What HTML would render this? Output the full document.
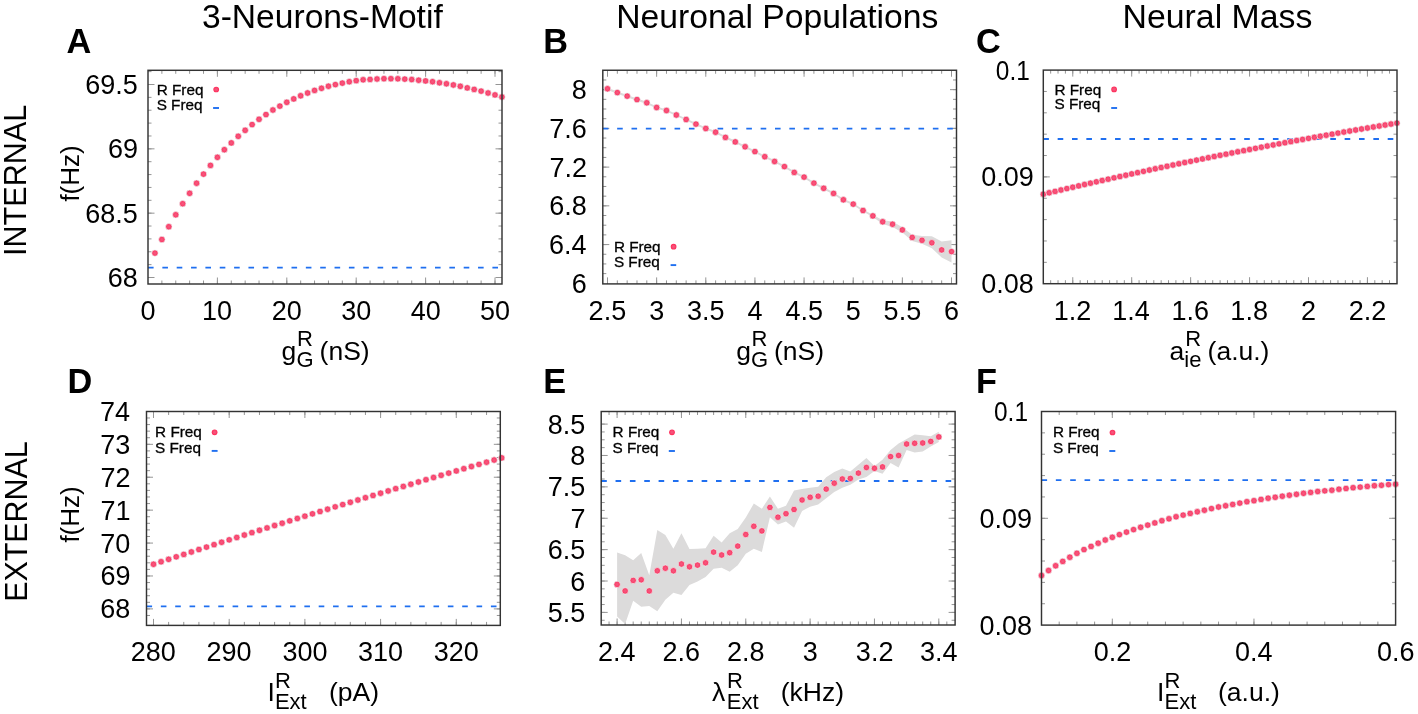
<!DOCTYPE html><html><head><meta charset="utf-8"><style>html,body{margin:0;padding:0;background:#fff;width:1418px;height:714px;overflow:hidden}svg{will-change:transform}</style></head><body><svg width="1418" height="714" viewBox="0 0 1418 714" style="position:absolute;left:0;top:0;font-family:'Liberation Sans', sans-serif">
<rect width="1418" height="714" fill="#fff"/>
<defs><radialGradient id="dg"><stop offset="0" stop-color="#f25d7f"/><stop offset="0.6" stop-color="#f94570"/><stop offset="0.85" stop-color="#ff2d5a"/><stop offset="1" stop-color="#ff2d5a"/></radialGradient></defs>
<text x="202.00" y="28.10" font-size="33.6" text-anchor="start" font-weight="normal" >3-Neurons-Motif</text>
<text x="616.20" y="28.30" font-size="33.7" text-anchor="start" font-weight="normal" >Neuronal Populations</text>
<text x="1122.60" y="28.10" font-size="33.8" text-anchor="start" font-weight="normal" >Neural Mass</text>
<text x="66.55" y="52.80" font-size="34.3" text-anchor="start" font-weight="bold" >A</text>
<text x="543.31" y="52.80" font-size="34.3" text-anchor="start" font-weight="bold" >B</text>
<text x="975.89" y="53.10" font-size="34.3" text-anchor="start" font-weight="bold" >C</text>
<text x="67.61" y="393.30" font-size="34.3" text-anchor="start" font-weight="bold" >D</text>
<text x="543.31" y="393.30" font-size="34.3" text-anchor="start" font-weight="bold" >E</text>
<text x="975.91" y="393.30" font-size="34.3" text-anchor="start" font-weight="bold" >F</text>
<text x="26.30" y="256.00" font-size="32" text-anchor="start" font-weight="normal" textLength="151.3" lengthAdjust="spacingAndGlyphs" transform="rotate(-90 26.3 256.0)">INTERNAL</text>
<text x="26.60" y="601.80" font-size="32" text-anchor="start" font-weight="normal" textLength="160.5" lengthAdjust="spacingAndGlyphs" transform="rotate(-90 26.6 601.8)">EXTERNAL</text>
<text x="78.60" y="201.60" font-size="26" text-anchor="start" font-weight="normal" transform="rotate(-90 78.6 201.6)">f(Hz)</text>
<text x="78.60" y="542.60" font-size="26" text-anchor="start" font-weight="normal" transform="rotate(-90 78.6 542.6)">f(Hz)</text>
<path d="M161.88 284.00v-3.5M161.88 70.30v3.5M175.76 284.00v-3.5M175.76 70.30v3.5M189.64 284.00v-3.5M189.64 70.30v3.5M203.52 284.00v-3.5M203.52 70.30v3.5M217.40 284.00v-3.5M217.40 70.30v3.5M231.28 284.00v-3.5M231.28 70.30v3.5M245.16 284.00v-3.5M245.16 70.30v3.5M259.04 284.00v-3.5M259.04 70.30v3.5M272.92 284.00v-3.5M272.92 70.30v3.5M286.80 284.00v-3.5M286.80 70.30v3.5M300.68 284.00v-3.5M300.68 70.30v3.5M314.56 284.00v-3.5M314.56 70.30v3.5M328.44 284.00v-3.5M328.44 70.30v3.5M342.32 284.00v-3.5M342.32 70.30v3.5M356.20 284.00v-3.5M356.20 70.30v3.5M370.08 284.00v-3.5M370.08 70.30v3.5M383.96 284.00v-3.5M383.96 70.30v3.5M397.84 284.00v-3.5M397.84 70.30v3.5M411.72 284.00v-3.5M411.72 70.30v3.5M425.60 284.00v-3.5M425.60 70.30v3.5M439.48 284.00v-3.5M439.48 70.30v3.5M453.36 284.00v-3.5M453.36 70.30v3.5M467.24 284.00v-3.5M467.24 70.30v3.5M481.12 284.00v-3.5M481.12 70.30v3.5M495.00 284.00v-3.5M495.00 70.30v3.5M148.00 277.50h3.5M502.00 277.50h-3.5M148.00 264.63h3.5M502.00 264.63h-3.5M148.00 251.77h3.5M502.00 251.77h-3.5M148.00 238.90h3.5M502.00 238.90h-3.5M148.00 226.03h3.5M502.00 226.03h-3.5M148.00 213.17h3.5M502.00 213.17h-3.5M148.00 200.30h3.5M502.00 200.30h-3.5M148.00 187.43h3.5M502.00 187.43h-3.5M148.00 174.57h3.5M502.00 174.57h-3.5M148.00 161.70h3.5M502.00 161.70h-3.5M148.00 148.83h3.5M502.00 148.83h-3.5M148.00 135.97h3.5M502.00 135.97h-3.5M148.00 123.10h3.5M502.00 123.10h-3.5M148.00 110.23h3.5M502.00 110.23h-3.5M148.00 97.37h3.5M502.00 97.37h-3.5M148.00 84.50h3.5M502.00 84.50h-3.5M148.00 71.63h3.5M502.00 71.63h-3.5" stroke="#959595" stroke-width="1" fill="none"/>
<path d="M217.40 284.00v-6.5M217.40 70.30v6.5M286.80 284.00v-6.5M286.80 70.30v6.5M356.20 284.00v-6.5M356.20 70.30v6.5M425.60 284.00v-6.5M425.60 70.30v6.5M495.00 284.00v-6.5M495.00 70.30v6.5M148.00 277.50h6.5M502.00 277.50h-6.5M148.00 213.17h6.5M502.00 213.17h-6.5M148.00 148.83h6.5M502.00 148.83h-6.5M148.00 84.50h6.5M502.00 84.50h-6.5" stroke="#959595" stroke-width="1" fill="none"/>
<line x1="148.00" y1="267.60" x2="502.00" y2="267.60" stroke="#1f6ff0" stroke-width="1.8" stroke-dasharray="5.6 8.75"/>
<g fill="url(#dg)" stroke="#eaf4f3" stroke-width="0.7"><circle cx="154.94" cy="253.10" r="3.2"/><circle cx="161.88" cy="239.50" r="3.2"/><circle cx="168.82" cy="226.70" r="3.2"/><circle cx="175.76" cy="214.80" r="3.2"/><circle cx="182.70" cy="203.70" r="3.2"/><circle cx="189.64" cy="193.30" r="3.2"/><circle cx="196.58" cy="183.20" r="3.2"/><circle cx="203.52" cy="174.10" r="3.2"/><circle cx="210.46" cy="165.40" r="3.2"/><circle cx="217.40" cy="157.30" r="3.2"/><circle cx="224.34" cy="149.70" r="3.2"/><circle cx="231.28" cy="142.90" r="3.2"/><circle cx="238.22" cy="136.30" r="3.2"/><circle cx="245.16" cy="130.30" r="3.2"/><circle cx="252.10" cy="124.60" r="3.2"/><circle cx="259.04" cy="119.30" r="3.2"/><circle cx="265.98" cy="114.60" r="3.2"/><circle cx="272.92" cy="110.00" r="3.2"/><circle cx="279.86" cy="106.10" r="3.2"/><circle cx="286.80" cy="102.30" r="3.2"/><circle cx="293.74" cy="98.90" r="3.2"/><circle cx="300.68" cy="95.80" r="3.2"/><circle cx="307.62" cy="93.00" r="3.2"/><circle cx="314.56" cy="90.40" r="3.2"/><circle cx="321.50" cy="88.30" r="3.2"/><circle cx="328.44" cy="86.20" r="3.2"/><circle cx="335.38" cy="84.60" r="3.2"/><circle cx="342.32" cy="83.10" r="3.2"/><circle cx="349.26" cy="81.75" r="3.2"/><circle cx="356.20" cy="80.65" r="3.2"/><circle cx="363.14" cy="79.80" r="3.2"/><circle cx="370.08" cy="79.40" r="3.2"/><circle cx="377.02" cy="79.00" r="3.2"/><circle cx="383.96" cy="78.70" r="3.2"/><circle cx="390.90" cy="78.70" r="3.2"/><circle cx="397.84" cy="78.80" r="3.2"/><circle cx="404.78" cy="79.10" r="3.2"/><circle cx="411.72" cy="79.55" r="3.2"/><circle cx="418.66" cy="80.20" r="3.2"/><circle cx="425.60" cy="80.90" r="3.2"/><circle cx="432.54" cy="81.70" r="3.2"/><circle cx="439.48" cy="82.80" r="3.2"/><circle cx="446.42" cy="83.80" r="3.2"/><circle cx="453.36" cy="84.95" r="3.2"/><circle cx="460.30" cy="86.30" r="3.2"/><circle cx="467.24" cy="87.90" r="3.2"/><circle cx="474.18" cy="89.40" r="3.2"/><circle cx="481.12" cy="91.10" r="3.2"/><circle cx="488.06" cy="93.00" r="3.2"/><circle cx="495.00" cy="94.90" r="3.2"/><circle cx="501.94" cy="97.00" r="3.2"/></g>
<rect x="148" y="70.3" width="354.00" height="213.70" fill="none" stroke="#333333" stroke-width="1.45"/>
<text x="156.68" y="94.90" font-size="15.3" text-anchor="start" font-weight="normal" stroke="#000" stroke-width="0.3">R Freq</text>
<text x="156.68" y="109.60" font-size="15.3" text-anchor="start" font-weight="normal" stroke="#000" stroke-width="0.3">S Freq</text>
<circle cx="216.2" cy="89.5" r="2.85" fill="url(#dg)"/>
<line x1="213.1" y1="108.0" x2="219.0" y2="108.0" stroke="#1f6ff0" stroke-width="1.9"/>
<text x="137.87" y="287.00" font-size="27" text-anchor="end" font-weight="normal" >68</text>
<text x="137.83" y="222.67" font-size="27" text-anchor="end" font-weight="normal" >68.5</text>
<text x="137.98" y="158.33" font-size="27" text-anchor="end" font-weight="normal" >69</text>
<text x="137.83" y="94.00" font-size="27" text-anchor="end" font-weight="normal" >69.5</text>
<text x="140.49" y="319.90" font-size="27" text-anchor="start" font-weight="normal" >0</text>
<text x="201.88" y="319.90" font-size="27" text-anchor="start" font-weight="normal" >10</text>
<text x="271.63" y="319.90" font-size="27" text-anchor="start" font-weight="normal" >20</text>
<text x="341.20" y="319.90" font-size="27" text-anchor="start" font-weight="normal" >30</text>
<text x="410.80" y="319.90" font-size="27" text-anchor="start" font-weight="normal" >40</text>
<text x="479.97" y="319.90" font-size="27" text-anchor="start" font-weight="normal" >50</text>
<path d="M607.50 283.90v-3.5M607.50 70.25v3.5M617.33 283.90v-3.5M617.33 70.25v3.5M627.16 283.90v-3.5M627.16 70.25v3.5M636.99 283.90v-3.5M636.99 70.25v3.5M646.81 283.90v-3.5M646.81 70.25v3.5M656.64 283.90v-3.5M656.64 70.25v3.5M666.47 283.90v-3.5M666.47 70.25v3.5M676.30 283.90v-3.5M676.30 70.25v3.5M686.13 283.90v-3.5M686.13 70.25v3.5M695.96 283.90v-3.5M695.96 70.25v3.5M705.79 283.90v-3.5M705.79 70.25v3.5M715.61 283.90v-3.5M715.61 70.25v3.5M725.44 283.90v-3.5M725.44 70.25v3.5M735.27 283.90v-3.5M735.27 70.25v3.5M745.10 283.90v-3.5M745.10 70.25v3.5M754.93 283.90v-3.5M754.93 70.25v3.5M764.76 283.90v-3.5M764.76 70.25v3.5M774.59 283.90v-3.5M774.59 70.25v3.5M784.41 283.90v-3.5M784.41 70.25v3.5M794.24 283.90v-3.5M794.24 70.25v3.5M804.07 283.90v-3.5M804.07 70.25v3.5M813.90 283.90v-3.5M813.90 70.25v3.5M823.73 283.90v-3.5M823.73 70.25v3.5M833.56 283.90v-3.5M833.56 70.25v3.5M843.39 283.90v-3.5M843.39 70.25v3.5M853.21 283.90v-3.5M853.21 70.25v3.5M863.04 283.90v-3.5M863.04 70.25v3.5M872.87 283.90v-3.5M872.87 70.25v3.5M882.70 283.90v-3.5M882.70 70.25v3.5M892.53 283.90v-3.5M892.53 70.25v3.5M902.36 283.90v-3.5M902.36 70.25v3.5M912.19 283.90v-3.5M912.19 70.25v3.5M922.01 283.90v-3.5M922.01 70.25v3.5M931.84 283.90v-3.5M931.84 70.25v3.5M941.67 283.90v-3.5M941.67 70.25v3.5M951.50 283.90v-3.5M951.50 70.25v3.5M602.80 273.62h3.5M956.50 273.62h-3.5M602.80 263.93h3.5M956.50 263.93h-3.5M602.80 254.25h3.5M956.50 254.25h-3.5M602.80 244.57h3.5M956.50 244.57h-3.5M602.80 234.89h3.5M956.50 234.89h-3.5M602.80 225.21h3.5M956.50 225.21h-3.5M602.80 215.52h3.5M956.50 215.52h-3.5M602.80 205.84h3.5M956.50 205.84h-3.5M602.80 196.16h3.5M956.50 196.16h-3.5M602.80 186.48h3.5M956.50 186.48h-3.5M602.80 176.79h3.5M956.50 176.79h-3.5M602.80 167.11h3.5M956.50 167.11h-3.5M602.80 157.43h3.5M956.50 157.43h-3.5M602.80 147.74h3.5M956.50 147.74h-3.5M602.80 138.06h3.5M956.50 138.06h-3.5M602.80 128.38h3.5M956.50 128.38h-3.5M602.80 118.70h3.5M956.50 118.70h-3.5M602.80 109.01h3.5M956.50 109.01h-3.5M602.80 99.33h3.5M956.50 99.33h-3.5M602.80 89.65h3.5M956.50 89.65h-3.5M602.80 79.97h3.5M956.50 79.97h-3.5" stroke="#959595" stroke-width="1" fill="none"/>
<path d="M607.50 283.90v-6.5M607.50 70.25v6.5M656.64 283.90v-6.5M656.64 70.25v6.5M705.79 283.90v-6.5M705.79 70.25v6.5M754.93 283.90v-6.5M754.93 70.25v6.5M804.07 283.90v-6.5M804.07 70.25v6.5M853.21 283.90v-6.5M853.21 70.25v6.5M902.36 283.90v-6.5M902.36 70.25v6.5M951.50 283.90v-6.5M951.50 70.25v6.5M602.80 244.57h6.5M956.50 244.57h-6.5M602.80 205.84h6.5M956.50 205.84h-6.5M602.80 167.11h6.5M956.50 167.11h-6.5M602.80 128.38h6.5M956.50 128.38h-6.5M602.80 89.65h6.5M956.50 89.65h-6.5" stroke="#959595" stroke-width="1" fill="none"/>
<polygon points="607.50,87.70 617.33,91.50 627.16,95.00 636.99,98.50 646.81,101.70 656.64,106.40 666.47,109.40 676.30,113.90 686.13,118.40 695.96,123.00 705.79,127.40 715.61,131.10 725.44,136.30 735.27,140.80 745.10,145.70 754.93,150.50 764.76,155.60 774.59,160.35 784.41,165.50 794.24,171.30 804.07,176.00 813.90,182.00 823.73,187.20 833.56,192.30 843.39,198.70 853.21,203.00 863.04,209.40 872.87,214.80 882.70,220.30 892.53,221.50 902.36,227.30 912.19,234.70 922.01,236.00 931.84,236.20 941.67,241.60 951.50,240.20 951.50,262.50 941.67,257.50 931.84,248.20 922.01,243.80 912.19,241.00 902.36,232.40 892.53,227.00 882.70,224.00 872.87,217.00 863.04,211.60 853.21,205.20 843.39,200.90 833.56,194.50 823.73,189.40 813.90,184.20 804.07,178.20 794.24,173.50 784.41,167.70 774.59,162.55 764.76,157.80 754.93,152.70 745.10,147.90 735.27,143.00 725.44,138.50 715.61,133.30 705.79,129.60 695.96,125.20 686.13,120.60 676.30,116.10 666.47,111.60 656.64,108.60 646.81,103.90 636.99,100.70 627.16,97.20 617.33,93.70 607.50,89.90" fill="#dcdbdb"/>
<line x1="602.80" y1="128.70" x2="956.50" y2="128.70" stroke="#1f6ff0" stroke-width="1.8" stroke-dasharray="5.6 8.75"/>
<g fill="url(#dg)" stroke="#eaf4f3" stroke-width="0.7"><circle cx="607.50" cy="88.80" r="3.2"/><circle cx="617.33" cy="92.60" r="3.2"/><circle cx="627.16" cy="96.10" r="3.2"/><circle cx="636.99" cy="99.60" r="3.2"/><circle cx="646.81" cy="102.80" r="3.2"/><circle cx="656.64" cy="107.50" r="3.2"/><circle cx="666.47" cy="110.50" r="3.2"/><circle cx="676.30" cy="115.00" r="3.2"/><circle cx="686.13" cy="119.50" r="3.2"/><circle cx="695.96" cy="124.10" r="3.2"/><circle cx="705.79" cy="128.50" r="3.2"/><circle cx="715.61" cy="132.20" r="3.2"/><circle cx="725.44" cy="137.40" r="3.2"/><circle cx="735.27" cy="141.90" r="3.2"/><circle cx="745.10" cy="146.80" r="3.2"/><circle cx="754.93" cy="151.60" r="3.2"/><circle cx="764.76" cy="156.70" r="3.2"/><circle cx="774.59" cy="161.45" r="3.2"/><circle cx="784.41" cy="166.60" r="3.2"/><circle cx="794.24" cy="172.40" r="3.2"/><circle cx="804.07" cy="177.10" r="3.2"/><circle cx="813.90" cy="183.10" r="3.2"/><circle cx="823.73" cy="188.30" r="3.2"/><circle cx="833.56" cy="193.40" r="3.2"/><circle cx="843.39" cy="199.80" r="3.2"/><circle cx="853.21" cy="204.10" r="3.2"/><circle cx="863.04" cy="210.50" r="3.2"/><circle cx="872.87" cy="215.90" r="3.2"/><circle cx="882.70" cy="221.80" r="3.2"/><circle cx="892.53" cy="224.20" r="3.2"/><circle cx="902.36" cy="229.90" r="3.2"/><circle cx="912.19" cy="237.40" r="3.2"/><circle cx="922.01" cy="240.30" r="3.2"/><circle cx="931.84" cy="242.80" r="3.2"/><circle cx="941.67" cy="249.90" r="3.2"/><circle cx="951.50" cy="251.60" r="3.2"/></g>
<rect x="602.8" y="70.25" width="353.70" height="213.65" fill="none" stroke="#333333" stroke-width="1.45"/>
<text x="613.88" y="251.80" font-size="15.3" text-anchor="start" font-weight="normal" stroke="#000" stroke-width="0.3">R Freq</text>
<text x="613.88" y="266.90" font-size="15.3" text-anchor="start" font-weight="normal" stroke="#000" stroke-width="0.3">S Freq</text>
<circle cx="673.6" cy="246.7" r="2.85" fill="url(#dg)"/>
<line x1="670.6" y1="265.1" x2="676.2" y2="265.1" stroke="#1f6ff0" stroke-width="1.9"/>
<text x="586.89" y="292.80" font-size="27" text-anchor="end" font-weight="normal" >6</text>
<text x="586.49" y="254.07" font-size="27" text-anchor="end" font-weight="normal" >6.4</text>
<text x="586.87" y="215.34" font-size="27" text-anchor="end" font-weight="normal" >6.8</text>
<text x="587.06" y="176.61" font-size="27" text-anchor="end" font-weight="normal" >7.2</text>
<text x="586.89" y="137.88" font-size="27" text-anchor="end" font-weight="normal" >7.6</text>
<text x="586.87" y="99.15" font-size="27" text-anchor="end" font-weight="normal" >8</text>
<text x="588.62" y="319.90" font-size="27" text-anchor="start" font-weight="normal" >2.5</text>
<text x="649.21" y="319.90" font-size="27" text-anchor="start" font-weight="normal" >3</text>
<text x="687.07" y="319.90" font-size="27" text-anchor="start" font-weight="normal" >3.5</text>
<text x="747.51" y="319.90" font-size="27" text-anchor="start" font-weight="normal" >4</text>
<text x="785.56" y="319.90" font-size="27" text-anchor="start" font-weight="normal" >4.5</text>
<text x="845.73" y="319.90" font-size="27" text-anchor="start" font-weight="normal" >5</text>
<text x="883.62" y="319.90" font-size="27" text-anchor="start" font-weight="normal" >5.5</text>
<text x="943.90" y="319.90" font-size="27" text-anchor="start" font-weight="normal" >6</text>
<path d="M1050.67 283.70v-3.5M1050.67 70.10v3.5M1058.03 283.70v-3.5M1058.03 70.10v3.5M1065.40 283.70v-3.5M1065.40 70.10v3.5M1072.77 283.70v-3.5M1072.77 70.10v3.5M1080.13 283.70v-3.5M1080.13 70.10v3.5M1087.50 283.70v-3.5M1087.50 70.10v3.5M1094.87 283.70v-3.5M1094.87 70.10v3.5M1102.23 283.70v-3.5M1102.23 70.10v3.5M1109.60 283.70v-3.5M1109.60 70.10v3.5M1116.97 283.70v-3.5M1116.97 70.10v3.5M1124.33 283.70v-3.5M1124.33 70.10v3.5M1131.70 283.70v-3.5M1131.70 70.10v3.5M1139.07 283.70v-3.5M1139.07 70.10v3.5M1146.43 283.70v-3.5M1146.43 70.10v3.5M1153.80 283.70v-3.5M1153.80 70.10v3.5M1161.17 283.70v-3.5M1161.17 70.10v3.5M1168.53 283.70v-3.5M1168.53 70.10v3.5M1175.90 283.70v-3.5M1175.90 70.10v3.5M1183.27 283.70v-3.5M1183.27 70.10v3.5M1190.63 283.70v-3.5M1190.63 70.10v3.5M1198.00 283.70v-3.5M1198.00 70.10v3.5M1205.37 283.70v-3.5M1205.37 70.10v3.5M1212.73 283.70v-3.5M1212.73 70.10v3.5M1220.10 283.70v-3.5M1220.10 70.10v3.5M1227.47 283.70v-3.5M1227.47 70.10v3.5M1234.83 283.70v-3.5M1234.83 70.10v3.5M1242.20 283.70v-3.5M1242.20 70.10v3.5M1249.57 283.70v-3.5M1249.57 70.10v3.5M1256.93 283.70v-3.5M1256.93 70.10v3.5M1264.30 283.70v-3.5M1264.30 70.10v3.5M1271.67 283.70v-3.5M1271.67 70.10v3.5M1279.03 283.70v-3.5M1279.03 70.10v3.5M1286.40 283.70v-3.5M1286.40 70.10v3.5M1293.77 283.70v-3.5M1293.77 70.10v3.5M1301.13 283.70v-3.5M1301.13 70.10v3.5M1308.50 283.70v-3.5M1308.50 70.10v3.5M1315.87 283.70v-3.5M1315.87 70.10v3.5M1323.23 283.70v-3.5M1323.23 70.10v3.5M1330.60 283.70v-3.5M1330.60 70.10v3.5M1337.97 283.70v-3.5M1337.97 70.10v3.5M1345.33 283.70v-3.5M1345.33 70.10v3.5M1352.70 283.70v-3.5M1352.70 70.10v3.5M1360.07 283.70v-3.5M1360.07 70.10v3.5M1367.43 283.70v-3.5M1367.43 70.10v3.5M1374.80 283.70v-3.5M1374.80 70.10v3.5M1382.17 283.70v-3.5M1382.17 70.10v3.5M1389.53 283.70v-3.5M1389.53 70.10v3.5M1043.30 262.34h3.5M1397.00 262.34h-3.5M1043.30 240.98h3.5M1397.00 240.98h-3.5M1043.30 219.62h3.5M1397.00 219.62h-3.5M1043.30 198.26h3.5M1397.00 198.26h-3.5M1043.30 176.90h3.5M1397.00 176.90h-3.5M1043.30 155.54h3.5M1397.00 155.54h-3.5M1043.30 134.18h3.5M1397.00 134.18h-3.5M1043.30 112.82h3.5M1397.00 112.82h-3.5M1043.30 91.46h3.5M1397.00 91.46h-3.5" stroke="#959595" stroke-width="1" fill="none"/>
<path d="M1072.77 283.70v-6.5M1072.77 70.10v6.5M1131.70 283.70v-6.5M1131.70 70.10v6.5M1190.63 283.70v-6.5M1190.63 70.10v6.5M1249.57 283.70v-6.5M1249.57 70.10v6.5M1308.50 283.70v-6.5M1308.50 70.10v6.5M1367.43 283.70v-6.5M1367.43 70.10v6.5M1043.30 176.90h6.5M1397.00 176.90h-6.5" stroke="#959595" stroke-width="1" fill="none"/>
<line x1="1043.30" y1="139.00" x2="1397.00" y2="139.00" stroke="#1f6ff0" stroke-width="1.8" stroke-dasharray="5.6 8.75"/>
<g fill="url(#dg)" stroke="#eaf4f3" stroke-width="0.7"><circle cx="1043.30" cy="194.19" r="3.2"/><circle cx="1049.19" cy="192.78" r="3.2"/><circle cx="1055.09" cy="191.39" r="3.2"/><circle cx="1060.98" cy="190.00" r="3.2"/><circle cx="1066.87" cy="188.62" r="3.2"/><circle cx="1072.77" cy="187.25" r="3.2"/><circle cx="1078.66" cy="185.88" r="3.2"/><circle cx="1084.55" cy="184.52" r="3.2"/><circle cx="1090.45" cy="183.17" r="3.2"/><circle cx="1096.34" cy="181.83" r="3.2"/><circle cx="1102.23" cy="180.49" r="3.2"/><circle cx="1108.13" cy="179.16" r="3.2"/><circle cx="1114.02" cy="177.84" r="3.2"/><circle cx="1119.91" cy="176.53" r="3.2"/><circle cx="1125.81" cy="175.22" r="3.2"/><circle cx="1131.70" cy="173.92" r="3.2"/><circle cx="1137.59" cy="172.63" r="3.2"/><circle cx="1143.49" cy="171.35" r="3.2"/><circle cx="1149.38" cy="170.07" r="3.2"/><circle cx="1155.27" cy="168.80" r="3.2"/><circle cx="1161.17" cy="167.54" r="3.2"/><circle cx="1167.06" cy="166.28" r="3.2"/><circle cx="1172.95" cy="165.03" r="3.2"/><circle cx="1178.85" cy="163.79" r="3.2"/><circle cx="1184.74" cy="162.56" r="3.2"/><circle cx="1190.63" cy="161.34" r="3.2"/><circle cx="1196.53" cy="160.12" r="3.2"/><circle cx="1202.42" cy="158.91" r="3.2"/><circle cx="1208.31" cy="157.70" r="3.2"/><circle cx="1214.21" cy="156.51" r="3.2"/><circle cx="1220.10" cy="155.32" r="3.2"/><circle cx="1225.99" cy="154.14" r="3.2"/><circle cx="1231.89" cy="152.96" r="3.2"/><circle cx="1237.78" cy="151.80" r="3.2"/><circle cx="1243.67" cy="150.64" r="3.2"/><circle cx="1249.57" cy="149.49" r="3.2"/><circle cx="1255.46" cy="148.34" r="3.2"/><circle cx="1261.35" cy="147.20" r="3.2"/><circle cx="1267.25" cy="146.07" r="3.2"/><circle cx="1273.14" cy="144.95" r="3.2"/><circle cx="1279.03" cy="143.84" r="3.2"/><circle cx="1284.93" cy="142.73" r="3.2"/><circle cx="1290.82" cy="141.63" r="3.2"/><circle cx="1296.71" cy="140.54" r="3.2"/><circle cx="1302.61" cy="139.45" r="3.2"/><circle cx="1308.50" cy="138.37" r="3.2"/><circle cx="1314.39" cy="137.30" r="3.2"/><circle cx="1320.29" cy="136.24" r="3.2"/><circle cx="1326.18" cy="135.18" r="3.2"/><circle cx="1332.07" cy="134.13" r="3.2"/><circle cx="1337.97" cy="133.09" r="3.2"/><circle cx="1343.86" cy="132.06" r="3.2"/><circle cx="1349.75" cy="131.03" r="3.2"/><circle cx="1355.65" cy="130.01" r="3.2"/><circle cx="1361.54" cy="129.00" r="3.2"/><circle cx="1367.43" cy="128.00" r="3.2"/><circle cx="1373.33" cy="127.00" r="3.2"/><circle cx="1379.22" cy="126.01" r="3.2"/><circle cx="1385.11" cy="125.03" r="3.2"/><circle cx="1391.01" cy="124.05" r="3.2"/><circle cx="1396.90" cy="123.09" r="3.2"/></g>
<rect x="1043.3" y="70.1" width="353.70" height="213.60" fill="none" stroke="#333333" stroke-width="1.45"/>
<text x="1054.48" y="94.50" font-size="15.3" text-anchor="start" font-weight="normal" stroke="#000" stroke-width="0.3">R Freq</text>
<text x="1054.48" y="109.30" font-size="15.3" text-anchor="start" font-weight="normal" stroke="#000" stroke-width="0.3">S Freq</text>
<circle cx="1114.1" cy="89.4" r="2.85" fill="url(#dg)"/>
<line x1="1111.2" y1="108.0" x2="1117.1" y2="108.0" stroke="#1f6ff0" stroke-width="1.9"/>
<text x="1029.79" y="79.60" font-size="27" text-anchor="end" font-weight="normal" textLength="33.95" lengthAdjust="spacingAndGlyphs">0.1</text>
<text x="1033.88" y="186.40" font-size="27" text-anchor="end" font-weight="normal" >0.09</text>
<text x="1033.77" y="293.20" font-size="27" text-anchor="end" font-weight="normal" >0.08</text>
<text x="1053.65" y="319.90" font-size="27" text-anchor="start" font-weight="normal" >1.2</text>
<text x="1112.30" y="319.90" font-size="27" text-anchor="start" font-weight="normal" >1.4</text>
<text x="1171.43" y="319.90" font-size="27" text-anchor="start" font-weight="normal" >1.6</text>
<text x="1230.36" y="319.90" font-size="27" text-anchor="start" font-weight="normal" >1.8</text>
<text x="1300.99" y="319.90" font-size="27" text-anchor="start" font-weight="normal" >2</text>
<text x="1348.67" y="319.90" font-size="27" text-anchor="start" font-weight="normal" >2.2</text>
<path d="M153.50 625.40v-3.5M153.50 411.50v3.5M168.64 625.40v-3.5M168.64 411.50v3.5M183.78 625.40v-3.5M183.78 411.50v3.5M198.92 625.40v-3.5M198.92 411.50v3.5M214.06 625.40v-3.5M214.06 411.50v3.5M229.20 625.40v-3.5M229.20 411.50v3.5M244.33 625.40v-3.5M244.33 411.50v3.5M259.47 625.40v-3.5M259.47 411.50v3.5M274.61 625.40v-3.5M274.61 411.50v3.5M289.75 625.40v-3.5M289.75 411.50v3.5M304.89 625.40v-3.5M304.89 411.50v3.5M320.03 625.40v-3.5M320.03 411.50v3.5M335.17 625.40v-3.5M335.17 411.50v3.5M350.31 625.40v-3.5M350.31 411.50v3.5M365.45 625.40v-3.5M365.45 411.50v3.5M380.59 625.40v-3.5M380.59 411.50v3.5M395.73 625.40v-3.5M395.73 411.50v3.5M410.87 625.40v-3.5M410.87 411.50v3.5M426.00 625.40v-3.5M426.00 411.50v3.5M441.14 625.40v-3.5M441.14 411.50v3.5M456.28 625.40v-3.5M456.28 411.50v3.5M471.42 625.40v-3.5M471.42 411.50v3.5M486.56 625.40v-3.5M486.56 411.50v3.5M146.50 615.48h3.5M500.30 615.48h-3.5M146.50 608.90h3.5M500.30 608.90h-3.5M146.50 602.32h3.5M500.30 602.32h-3.5M146.50 595.73h3.5M500.30 595.73h-3.5M146.50 589.15h3.5M500.30 589.15h-3.5M146.50 582.57h3.5M500.30 582.57h-3.5M146.50 575.98h3.5M500.30 575.98h-3.5M146.50 569.40h3.5M500.30 569.40h-3.5M146.50 562.82h3.5M500.30 562.82h-3.5M146.50 556.23h3.5M500.30 556.23h-3.5M146.50 549.65h3.5M500.30 549.65h-3.5M146.50 543.07h3.5M500.30 543.07h-3.5M146.50 536.48h3.5M500.30 536.48h-3.5M146.50 529.90h3.5M500.30 529.90h-3.5M146.50 523.32h3.5M500.30 523.32h-3.5M146.50 516.73h3.5M500.30 516.73h-3.5M146.50 510.15h3.5M500.30 510.15h-3.5M146.50 503.57h3.5M500.30 503.57h-3.5M146.50 496.98h3.5M500.30 496.98h-3.5M146.50 490.40h3.5M500.30 490.40h-3.5M146.50 483.82h3.5M500.30 483.82h-3.5M146.50 477.23h3.5M500.30 477.23h-3.5M146.50 470.65h3.5M500.30 470.65h-3.5M146.50 464.07h3.5M500.30 464.07h-3.5M146.50 457.48h3.5M500.30 457.48h-3.5M146.50 450.90h3.5M500.30 450.90h-3.5M146.50 444.32h3.5M500.30 444.32h-3.5M146.50 437.73h3.5M500.30 437.73h-3.5M146.50 431.15h3.5M500.30 431.15h-3.5M146.50 424.57h3.5M500.30 424.57h-3.5M146.50 417.98h3.5M500.30 417.98h-3.5" stroke="#959595" stroke-width="1" fill="none"/>
<path d="M153.50 625.40v-6.5M153.50 411.50v6.5M229.20 625.40v-6.5M229.20 411.50v6.5M304.89 625.40v-6.5M304.89 411.50v6.5M380.59 625.40v-6.5M380.59 411.50v6.5M456.28 625.40v-6.5M456.28 411.50v6.5M146.50 608.90h6.5M500.30 608.90h-6.5M146.50 575.98h6.5M500.30 575.98h-6.5M146.50 543.07h6.5M500.30 543.07h-6.5M146.50 510.15h6.5M500.30 510.15h-6.5M146.50 477.23h6.5M500.30 477.23h-6.5M146.50 444.32h6.5M500.30 444.32h-6.5" stroke="#959595" stroke-width="1" fill="none"/>
<line x1="146.50" y1="606.40" x2="500.30" y2="606.40" stroke="#1f6ff0" stroke-width="1.8" stroke-dasharray="5.6 8.75"/>
<g fill="url(#dg)" stroke="#eaf4f3" stroke-width="0.7"><circle cx="153.50" cy="564.24" r="3.2"/><circle cx="161.07" cy="561.77" r="3.2"/><circle cx="168.64" cy="559.31" r="3.2"/><circle cx="176.21" cy="556.85" r="3.2"/><circle cx="183.78" cy="554.40" r="3.2"/><circle cx="191.35" cy="551.96" r="3.2"/><circle cx="198.92" cy="549.52" r="3.2"/><circle cx="206.49" cy="547.10" r="3.2"/><circle cx="214.06" cy="544.67" r="3.2"/><circle cx="221.63" cy="542.26" r="3.2"/><circle cx="229.20" cy="539.85" r="3.2"/><circle cx="236.77" cy="537.45" r="3.2"/><circle cx="244.33" cy="535.06" r="3.2"/><circle cx="251.90" cy="532.67" r="3.2"/><circle cx="259.47" cy="530.29" r="3.2"/><circle cx="267.04" cy="527.92" r="3.2"/><circle cx="274.61" cy="525.56" r="3.2"/><circle cx="282.18" cy="523.20" r="3.2"/><circle cx="289.75" cy="520.85" r="3.2"/><circle cx="297.32" cy="518.50" r="3.2"/><circle cx="304.89" cy="516.17" r="3.2"/><circle cx="312.46" cy="513.84" r="3.2"/><circle cx="320.03" cy="511.51" r="3.2"/><circle cx="327.60" cy="509.20" r="3.2"/><circle cx="335.17" cy="506.89" r="3.2"/><circle cx="342.74" cy="504.59" r="3.2"/><circle cx="350.31" cy="502.29" r="3.2"/><circle cx="357.88" cy="500.01" r="3.2"/><circle cx="365.45" cy="497.72" r="3.2"/><circle cx="373.02" cy="495.45" r="3.2"/><circle cx="380.59" cy="493.18" r="3.2"/><circle cx="388.16" cy="490.93" r="3.2"/><circle cx="395.73" cy="488.67" r="3.2"/><circle cx="403.30" cy="486.43" r="3.2"/><circle cx="410.87" cy="484.19" r="3.2"/><circle cx="418.43" cy="481.96" r="3.2"/><circle cx="426.00" cy="479.73" r="3.2"/><circle cx="433.57" cy="477.52" r="3.2"/><circle cx="441.14" cy="475.31" r="3.2"/><circle cx="448.71" cy="473.10" r="3.2"/><circle cx="456.28" cy="470.91" r="3.2"/><circle cx="463.85" cy="468.72" r="3.2"/><circle cx="471.42" cy="466.54" r="3.2"/><circle cx="478.99" cy="464.36" r="3.2"/><circle cx="486.56" cy="462.19" r="3.2"/><circle cx="494.13" cy="460.03" r="3.2"/><circle cx="501.70" cy="457.88" r="3.2"/></g>
<rect x="146.5" y="411.5" width="353.80" height="213.90" fill="none" stroke="#333333" stroke-width="1.45"/>
<text x="155.08" y="437.40" font-size="15.3" text-anchor="start" font-weight="normal" stroke="#000" stroke-width="0.3">R Freq</text>
<text x="155.08" y="452.80" font-size="15.3" text-anchor="start" font-weight="normal" stroke="#000" stroke-width="0.3">S Freq</text>
<circle cx="214.6" cy="432.3" r="2.85" fill="url(#dg)"/>
<line x1="211.7" y1="450.9" x2="217.6" y2="450.9" stroke="#1f6ff0" stroke-width="1.9"/>
<text x="130.37" y="618.40" font-size="27" text-anchor="end" font-weight="normal" >68</text>
<text x="130.48" y="585.48" font-size="27" text-anchor="end" font-weight="normal" >69</text>
<text x="130.25" y="552.57" font-size="27" text-anchor="end" font-weight="normal" >70</text>
<text x="130.52" y="519.65" font-size="27" text-anchor="end" font-weight="normal" >71</text>
<text x="130.56" y="486.73" font-size="27" text-anchor="end" font-weight="normal" >72</text>
<text x="130.39" y="453.82" font-size="27" text-anchor="end" font-weight="normal" >73</text>
<text x="129.99" y="420.90" font-size="27" text-anchor="end" font-weight="normal" >74</text>
<text x="130.82" y="661.10" font-size="27" text-anchor="start" font-weight="normal" >280</text>
<text x="206.52" y="661.10" font-size="27" text-anchor="start" font-weight="normal" >290</text>
<text x="282.38" y="661.10" font-size="27" text-anchor="start" font-weight="normal" >300</text>
<text x="358.08" y="661.10" font-size="27" text-anchor="start" font-weight="normal" >310</text>
<text x="433.77" y="661.10" font-size="27" text-anchor="start" font-weight="normal" >320</text>
<path d="M617.10 625.00v-3.5M617.10 411.50v3.5M625.14 625.00v-3.5M625.14 411.50v3.5M633.18 625.00v-3.5M633.18 411.50v3.5M641.23 625.00v-3.5M641.23 411.50v3.5M649.27 625.00v-3.5M649.27 411.50v3.5M657.31 625.00v-3.5M657.31 411.50v3.5M665.36 625.00v-3.5M665.36 411.50v3.5M673.40 625.00v-3.5M673.40 411.50v3.5M681.44 625.00v-3.5M681.44 411.50v3.5M689.48 625.00v-3.5M689.48 411.50v3.5M697.52 625.00v-3.5M697.52 411.50v3.5M705.57 625.00v-3.5M705.57 411.50v3.5M713.61 625.00v-3.5M713.61 411.50v3.5M721.65 625.00v-3.5M721.65 411.50v3.5M729.70 625.00v-3.5M729.70 411.50v3.5M737.74 625.00v-3.5M737.74 411.50v3.5M745.78 625.00v-3.5M745.78 411.50v3.5M753.82 625.00v-3.5M753.82 411.50v3.5M761.87 625.00v-3.5M761.87 411.50v3.5M769.91 625.00v-3.5M769.91 411.50v3.5M777.95 625.00v-3.5M777.95 411.50v3.5M785.99 625.00v-3.5M785.99 411.50v3.5M794.04 625.00v-3.5M794.04 411.50v3.5M802.08 625.00v-3.5M802.08 411.50v3.5M810.12 625.00v-3.5M810.12 411.50v3.5M818.16 625.00v-3.5M818.16 411.50v3.5M826.20 625.00v-3.5M826.20 411.50v3.5M834.25 625.00v-3.5M834.25 411.50v3.5M842.29 625.00v-3.5M842.29 411.50v3.5M850.33 625.00v-3.5M850.33 411.50v3.5M858.38 625.00v-3.5M858.38 411.50v3.5M866.42 625.00v-3.5M866.42 411.50v3.5M874.46 625.00v-3.5M874.46 411.50v3.5M882.50 625.00v-3.5M882.50 411.50v3.5M890.55 625.00v-3.5M890.55 411.50v3.5M898.59 625.00v-3.5M898.59 411.50v3.5M906.63 625.00v-3.5M906.63 411.50v3.5M914.67 625.00v-3.5M914.67 411.50v3.5M922.71 625.00v-3.5M922.71 411.50v3.5M930.76 625.00v-3.5M930.76 411.50v3.5M938.80 625.00v-3.5M938.80 411.50v3.5M946.84 625.00v-3.5M946.84 411.50v3.5M609.06 625.00v-3.5M609.06 411.50v3.5M601.20 620.25h3.5M955.10 620.25h-3.5M601.20 612.40h3.5M955.10 612.40h-3.5M601.20 604.55h3.5M955.10 604.55h-3.5M601.20 596.71h3.5M955.10 596.71h-3.5M601.20 588.86h3.5M955.10 588.86h-3.5M601.20 581.02h3.5M955.10 581.02h-3.5M601.20 573.17h3.5M955.10 573.17h-3.5M601.20 565.33h3.5M955.10 565.33h-3.5M601.20 557.48h3.5M955.10 557.48h-3.5M601.20 549.63h3.5M955.10 549.63h-3.5M601.20 541.79h3.5M955.10 541.79h-3.5M601.20 533.94h3.5M955.10 533.94h-3.5M601.20 526.10h3.5M955.10 526.10h-3.5M601.20 518.25h3.5M955.10 518.25h-3.5M601.20 510.40h3.5M955.10 510.40h-3.5M601.20 502.56h3.5M955.10 502.56h-3.5M601.20 494.71h3.5M955.10 494.71h-3.5M601.20 486.87h3.5M955.10 486.87h-3.5M601.20 479.02h3.5M955.10 479.02h-3.5M601.20 471.18h3.5M955.10 471.18h-3.5M601.20 463.33h3.5M955.10 463.33h-3.5M601.20 455.48h3.5M955.10 455.48h-3.5M601.20 447.64h3.5M955.10 447.64h-3.5M601.20 439.79h3.5M955.10 439.79h-3.5M601.20 431.95h3.5M955.10 431.95h-3.5M601.20 424.10h3.5M955.10 424.10h-3.5" stroke="#959595" stroke-width="1" fill="none"/>
<path d="M617.10 625.00v-6.5M617.10 411.50v6.5M681.44 625.00v-6.5M681.44 411.50v6.5M745.78 625.00v-6.5M745.78 411.50v6.5M810.12 625.00v-6.5M810.12 411.50v6.5M874.46 625.00v-6.5M874.46 411.50v6.5M938.80 625.00v-6.5M938.80 411.50v6.5M601.20 612.40h6.5M955.10 612.40h-6.5M601.20 581.02h6.5M955.10 581.02h-6.5M601.20 549.63h6.5M955.10 549.63h-6.5M601.20 518.25h6.5M955.10 518.25h-6.5M601.20 486.87h6.5M955.10 486.87h-6.5M601.20 455.48h6.5M955.10 455.48h-6.5M601.20 424.10h6.5M955.10 424.10h-6.5" stroke="#959595" stroke-width="1" fill="none"/>
<polygon points="617.10,552.50 625.14,555.20 633.18,560.30 641.23,552.90 649.27,575.20 657.31,530.00 665.36,535.00 673.40,548.70 681.44,533.20 689.48,548.90 697.52,548.70 705.57,548.30 713.61,535.70 721.65,542.60 729.70,533.20 737.74,529.00 745.78,517.50 753.82,503.60 761.87,508.80 769.91,496.60 777.95,508.80 785.99,505.70 794.04,490.50 802.08,488.90 810.12,487.80 818.16,486.80 826.20,477.30 834.25,472.10 842.29,468.50 850.33,471.60 858.38,464.70 866.42,458.00 874.46,466.10 882.50,459.70 890.55,449.90 898.59,443.50 906.63,439.10 914.67,434.50 922.71,435.20 930.76,436.20 938.80,431.80 938.80,442.10 930.76,446.50 922.71,451.40 914.67,452.40 906.63,449.90 898.59,467.50 890.55,463.10 882.50,473.70 874.46,471.00 866.42,477.00 858.38,479.40 850.33,484.70 842.29,487.80 834.25,492.00 826.20,498.30 818.16,504.60 810.12,506.70 802.08,510.90 794.04,527.70 785.99,521.40 777.95,524.60 769.91,517.20 761.87,551.90 753.82,548.70 745.78,553.70 737.74,565.30 729.70,571.80 721.65,567.80 713.61,568.70 705.57,577.10 697.52,581.50 689.48,585.00 681.44,595.10 673.40,592.80 665.36,599.70 657.31,611.30 649.27,606.10 641.23,606.70 633.18,600.80 625.14,623.90 617.10,616.60" fill="#dcdbdb"/>
<line x1="601.20" y1="481.00" x2="955.10" y2="481.00" stroke="#1f6ff0" stroke-width="1.8" stroke-dasharray="5.6 8.75"/>
<g fill="url(#dg)" stroke="#eaf4f3" stroke-width="0.7"><circle cx="617.10" cy="584.40" r="3.2"/><circle cx="625.14" cy="590.90" r="3.2"/><circle cx="633.18" cy="580.40" r="3.2"/><circle cx="641.23" cy="579.80" r="3.2"/><circle cx="649.27" cy="590.90" r="3.2"/><circle cx="657.31" cy="570.80" r="3.2"/><circle cx="665.36" cy="568.20" r="3.2"/><circle cx="673.40" cy="570.80" r="3.2"/><circle cx="681.44" cy="564.00" r="3.2"/><circle cx="689.48" cy="566.80" r="3.2"/><circle cx="697.52" cy="565.10" r="3.2"/><circle cx="705.57" cy="562.80" r="3.2"/><circle cx="713.61" cy="552.10" r="3.2"/><circle cx="721.65" cy="555.00" r="3.2"/><circle cx="729.70" cy="552.70" r="3.2"/><circle cx="737.74" cy="546.10" r="3.2"/><circle cx="745.78" cy="534.50" r="3.2"/><circle cx="753.82" cy="526.30" r="3.2"/><circle cx="761.87" cy="530.90" r="3.2"/><circle cx="769.91" cy="507.40" r="3.2"/><circle cx="777.95" cy="517.20" r="3.2"/><circle cx="785.99" cy="513.70" r="3.2"/><circle cx="794.04" cy="509.50" r="3.2"/><circle cx="802.08" cy="500.00" r="3.2"/><circle cx="810.12" cy="497.30" r="3.2"/><circle cx="818.16" cy="496.20" r="3.2"/><circle cx="826.20" cy="489.10" r="3.2"/><circle cx="834.25" cy="483.20" r="3.2"/><circle cx="842.29" cy="479.00" r="3.2"/><circle cx="850.33" cy="478.40" r="3.2"/><circle cx="858.38" cy="473.10" r="3.2"/><circle cx="866.42" cy="467.50" r="3.2"/><circle cx="874.46" cy="468.30" r="3.2"/><circle cx="882.50" cy="466.90" r="3.2"/><circle cx="890.55" cy="456.60" r="3.2"/><circle cx="898.59" cy="455.50" r="3.2"/><circle cx="906.63" cy="444.00" r="3.2"/><circle cx="914.67" cy="443.30" r="3.2"/><circle cx="922.71" cy="443.00" r="3.2"/><circle cx="930.76" cy="441.40" r="3.2"/><circle cx="938.80" cy="436.90" r="3.2"/></g>
<rect x="601.2" y="411.5" width="353.90" height="213.50" fill="none" stroke="#333333" stroke-width="1.45"/>
<text x="612.58" y="437.40" font-size="15.3" text-anchor="start" font-weight="normal" stroke="#000" stroke-width="0.3">R Freq</text>
<text x="612.58" y="452.80" font-size="15.3" text-anchor="start" font-weight="normal" stroke="#000" stroke-width="0.3">S Freq</text>
<circle cx="672.0" cy="432.3" r="2.85" fill="url(#dg)"/>
<line x1="668.8" y1="451.0" x2="674.9" y2="451.0" stroke="#1f6ff0" stroke-width="1.9"/>
<text x="585.23" y="621.90" font-size="27" text-anchor="end" font-weight="normal" >5.5</text>
<text x="585.29" y="590.52" font-size="27" text-anchor="end" font-weight="normal" >6</text>
<text x="585.23" y="559.13" font-size="27" text-anchor="end" font-weight="normal" >6.5</text>
<text x="585.46" y="527.75" font-size="27" text-anchor="end" font-weight="normal" >7</text>
<text x="585.23" y="496.37" font-size="27" text-anchor="end" font-weight="normal" >7.5</text>
<text x="585.27" y="464.98" font-size="27" text-anchor="end" font-weight="normal" >8</text>
<text x="585.23" y="433.60" font-size="27" text-anchor="end" font-weight="normal" >8.5</text>
<text x="598.05" y="661.10" font-size="27" text-anchor="start" font-weight="normal" >2.4</text>
<text x="662.59" y="661.10" font-size="27" text-anchor="start" font-weight="normal" >2.6</text>
<text x="726.92" y="661.10" font-size="27" text-anchor="start" font-weight="normal" >2.8</text>
<text x="802.69" y="661.10" font-size="27" text-anchor="start" font-weight="normal" >3</text>
<text x="855.86" y="661.10" font-size="27" text-anchor="start" font-weight="normal" >3.2</text>
<text x="919.91" y="661.10" font-size="27" text-anchor="start" font-weight="normal" >3.4</text>
<path d="M1059.20 625.10v-3.5M1059.20 411.50v3.5M1076.91 625.10v-3.5M1076.91 411.50v3.5M1094.62 625.10v-3.5M1094.62 411.50v3.5M1112.32 625.10v-3.5M1112.32 411.50v3.5M1130.03 625.10v-3.5M1130.03 411.50v3.5M1147.73 625.10v-3.5M1147.73 411.50v3.5M1165.43 625.10v-3.5M1165.43 411.50v3.5M1183.14 625.10v-3.5M1183.14 411.50v3.5M1200.85 625.10v-3.5M1200.85 411.50v3.5M1218.55 625.10v-3.5M1218.55 411.50v3.5M1236.26 625.10v-3.5M1236.26 411.50v3.5M1253.96 625.10v-3.5M1253.96 411.50v3.5M1271.66 625.10v-3.5M1271.66 411.50v3.5M1289.37 625.10v-3.5M1289.37 411.50v3.5M1307.08 625.10v-3.5M1307.08 411.50v3.5M1324.78 625.10v-3.5M1324.78 411.50v3.5M1342.48 625.10v-3.5M1342.48 411.50v3.5M1360.19 625.10v-3.5M1360.19 411.50v3.5M1377.89 625.10v-3.5M1377.89 411.50v3.5M1041.50 603.74h3.5M1395.60 603.74h-3.5M1041.50 582.38h3.5M1395.60 582.38h-3.5M1041.50 561.02h3.5M1395.60 561.02h-3.5M1041.50 539.66h3.5M1395.60 539.66h-3.5M1041.50 518.30h3.5M1395.60 518.30h-3.5M1041.50 496.94h3.5M1395.60 496.94h-3.5M1041.50 475.58h3.5M1395.60 475.58h-3.5M1041.50 454.22h3.5M1395.60 454.22h-3.5M1041.50 432.86h3.5M1395.60 432.86h-3.5" stroke="#959595" stroke-width="1" fill="none"/>
<path d="M1112.32 625.10v-6.5M1112.32 411.50v6.5M1253.96 625.10v-6.5M1253.96 411.50v6.5M1041.50 518.30h6.5M1395.60 518.30h-6.5" stroke="#959595" stroke-width="1" fill="none"/>
<line x1="1041.50" y1="480.20" x2="1395.60" y2="480.20" stroke="#1f6ff0" stroke-width="1.8" stroke-dasharray="5.6 8.75"/>
<g fill="url(#dg)" stroke="#eaf4f3" stroke-width="0.7"><circle cx="1041.50" cy="575.50" r="3.2"/><circle cx="1048.58" cy="570.50" r="3.2"/><circle cx="1055.66" cy="565.80" r="3.2"/><circle cx="1062.75" cy="561.40" r="3.2"/><circle cx="1069.83" cy="557.20" r="3.2"/><circle cx="1076.91" cy="553.30" r="3.2"/><circle cx="1083.99" cy="549.60" r="3.2"/><circle cx="1091.07" cy="546.40" r="3.2"/><circle cx="1098.16" cy="543.20" r="3.2"/><circle cx="1105.24" cy="540.00" r="3.2"/><circle cx="1112.32" cy="537.30" r="3.2"/><circle cx="1119.40" cy="534.60" r="3.2"/><circle cx="1126.48" cy="532.10" r="3.2"/><circle cx="1133.57" cy="529.60" r="3.2"/><circle cx="1140.65" cy="527.30" r="3.2"/><circle cx="1147.73" cy="525.10" r="3.2"/><circle cx="1154.81" cy="522.90" r="3.2"/><circle cx="1161.89" cy="520.70" r="3.2"/><circle cx="1168.98" cy="518.80" r="3.2"/><circle cx="1176.06" cy="516.80" r="3.2"/><circle cx="1183.14" cy="515.10" r="3.2"/><circle cx="1190.22" cy="513.40" r="3.2"/><circle cx="1197.30" cy="511.80" r="3.2"/><circle cx="1204.39" cy="510.20" r="3.2"/><circle cx="1211.47" cy="508.60" r="3.2"/><circle cx="1218.55" cy="507.00" r="3.2"/><circle cx="1225.63" cy="505.80" r="3.2"/><circle cx="1232.71" cy="504.40" r="3.2"/><circle cx="1239.80" cy="503.10" r="3.2"/><circle cx="1246.88" cy="501.70" r="3.2"/><circle cx="1253.96" cy="500.70" r="3.2"/><circle cx="1261.04" cy="499.40" r="3.2"/><circle cx="1268.12" cy="498.20" r="3.2"/><circle cx="1275.21" cy="497.30" r="3.2"/><circle cx="1282.29" cy="496.20" r="3.2"/><circle cx="1289.37" cy="495.20" r="3.2"/><circle cx="1296.45" cy="494.30" r="3.2"/><circle cx="1303.53" cy="493.30" r="3.2"/><circle cx="1310.62" cy="492.40" r="3.2"/><circle cx="1317.70" cy="491.50" r="3.2"/><circle cx="1324.78" cy="490.85" r="3.2"/><circle cx="1331.86" cy="490.20" r="3.2"/><circle cx="1338.94" cy="489.20" r="3.2"/><circle cx="1346.03" cy="488.50" r="3.2"/><circle cx="1353.11" cy="487.70" r="3.2"/><circle cx="1360.19" cy="487.10" r="3.2"/><circle cx="1367.27" cy="486.40" r="3.2"/><circle cx="1374.35" cy="485.70" r="3.2"/><circle cx="1381.44" cy="485.30" r="3.2"/><circle cx="1388.52" cy="484.60" r="3.2"/><circle cx="1395.60" cy="484.20" r="3.2"/></g>
<rect x="1041.5" y="411.5" width="354.10" height="213.60" fill="none" stroke="#333333" stroke-width="1.45"/>
<text x="1052.88" y="437.20" font-size="15.3" text-anchor="start" font-weight="normal" stroke="#000" stroke-width="0.3">R Freq</text>
<text x="1052.88" y="452.60" font-size="15.3" text-anchor="start" font-weight="normal" stroke="#000" stroke-width="0.3">S Freq</text>
<circle cx="1112.5" cy="432.5" r="2.85" fill="url(#dg)"/>
<line x1="1109.3" y1="451.0" x2="1115.3" y2="451.0" stroke="#1f6ff0" stroke-width="1.9"/>
<text x="1027.99" y="421.00" font-size="27" text-anchor="end" font-weight="normal" textLength="33.95" lengthAdjust="spacingAndGlyphs">0.1</text>
<text x="1032.08" y="527.80" font-size="27" text-anchor="end" font-weight="normal" >0.09</text>
<text x="1031.97" y="634.60" font-size="27" text-anchor="end" font-weight="normal" >0.08</text>
<text x="1093.70" y="661.10" font-size="27" text-anchor="start" font-weight="normal" >0.2</text>
<text x="1235.06" y="661.10" font-size="27" text-anchor="start" font-weight="normal" >0.4</text>
<text x="1376.90" y="661.10" font-size="27" text-anchor="start" font-weight="normal" >0.6</text>
<text x="281.60" y="359.60" font-size="26.5" text-anchor="start" font-weight="normal" >g</text>
<text x="296.90" y="346.40" font-size="22" text-anchor="start" font-weight="normal" >R</text>
<text x="296.40" y="366.70" font-size="22" text-anchor="start" font-weight="normal" >G</text>
<text x="319.60" y="359.60" font-size="26.5" text-anchor="start" font-weight="normal" >(nS)</text>
<text x="736.20" y="359.60" font-size="26.5" text-anchor="start" font-weight="normal" >g</text>
<text x="751.50" y="346.40" font-size="22" text-anchor="start" font-weight="normal" >R</text>
<text x="751.00" y="366.70" font-size="22" text-anchor="start" font-weight="normal" >G</text>
<text x="773.90" y="359.60" font-size="26.5" text-anchor="start" font-weight="normal" >(nS)</text>
<text x="1169.60" y="359.80" font-size="26.5" text-anchor="start" font-weight="normal" >a</text>
<text x="1185.30" y="346.40" font-size="22" text-anchor="start" font-weight="normal" >R</text>
<text x="1184.30" y="367.00" font-size="22" text-anchor="start" font-weight="normal" >ie</text>
<text x="1207.60" y="359.80" font-size="26.5" text-anchor="start" font-weight="normal" >(a.u.)</text>
<text x="267.40" y="700.90" font-size="26.5" text-anchor="start" font-weight="normal" >I</text>
<text x="275.00" y="687.60" font-size="22" text-anchor="start" font-weight="normal" >R</text>
<text x="274.90" y="709.10" font-size="22" text-anchor="start" font-weight="normal" >Ext</text>
<text x="328.90" y="700.90" font-size="26.5" text-anchor="start" font-weight="normal" >(pA)</text>
<text x="712.10" y="700.90" font-size="26.5" text-anchor="start" font-weight="normal" >λ</text>
<text x="726.90" y="687.60" font-size="22" text-anchor="start" font-weight="normal" >R</text>
<text x="726.80" y="709.10" font-size="22" text-anchor="start" font-weight="normal" >Ext</text>
<text x="780.80" y="700.90" font-size="26.5" text-anchor="start" font-weight="normal" >(kHz)</text>
<text x="1157.00" y="700.90" font-size="26.5" text-anchor="start" font-weight="normal" >I</text>
<text x="1164.60" y="687.60" font-size="22" text-anchor="start" font-weight="normal" >R</text>
<text x="1164.50" y="709.10" font-size="22" text-anchor="start" font-weight="normal" >Ext</text>
<text x="1218.00" y="700.90" font-size="26.5" text-anchor="start" font-weight="normal" >(a.u.)</text>
</svg></body></html>
